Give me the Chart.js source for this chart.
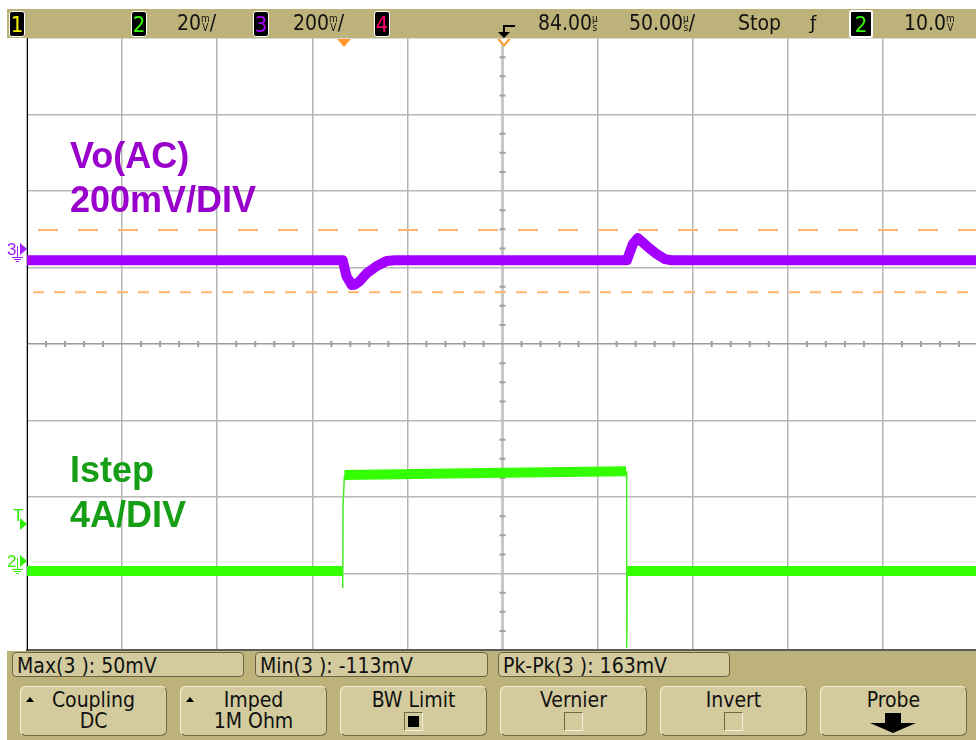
<!DOCTYPE html>
<html>
<head>
<meta charset="utf-8">
<script src="https://cdn.jsdelivr.net/npm/chart.js@4.4.1/dist/chart.umd.min.js"></script>
<style>
  html, body { margin: 0; padding: 0; background: #fff; overflow: hidden; }
  #scope { position: relative; width: 976px; height: 740px; overflow: hidden;
    font-family: "Liberation Sans Narrow", "DejaVu Sans Condensed", sans-serif; color: #111; }
  #plot { position: absolute; left: 0; top: 0; }
  .abs { position: absolute; }
  .bar { position: absolute; background: #bdb37a; }
  #topbar { left: 7px; top: 9px; width: 969px; height: 29px; }
  #botbar { left: 7px; top: 651px; width: 969px; height: 89px; }
  .chbox { position: absolute; top: 11px; width: 14px; height: 24px; background: #000;
    border: 1px solid #fff; border-radius: 3px; font-size: 22px; line-height: 25px; text-align: center; }
  .st { position: absolute; top: 9px; font-size: 21px; line-height: 28px; white-space: nowrap; }
  .unit { display: inline-block; font-size: 10px; line-height: 9px; vertical-align: top;
    margin-top: 5px; text-align: center; }
  .meas { position: absolute; top: 652px; height: 25px; background: #d3cb9e; border: 1px solid #6a6443;
    border-radius: 4px; font-size: 21px; line-height: 26px; padding-left: 4px; box-sizing: border-box; }
  .key { position: absolute; top: 686px; width: 147px; height: 50px; background: #d3cb9e;
    border: 1px solid #f4f0dc; border-right-color: #6f6946; border-bottom-color: #6f6946;
    border-radius: 6px; box-sizing: border-box; text-align: center; font-size: 21px; }
  .key .l1 { position: absolute; left: 0; right: 0; top: 2px; line-height: 22px; }
  .key .l2 { position: absolute; left: 0; right: 0; top: 23px; line-height: 22px; }
  .key .up { position: absolute; left: 5px; top: 10px; width: 0; height: 0;
    border-left: 4px solid transparent; border-right: 4px solid transparent; border-bottom: 5px solid #000; }
  .chk { position: absolute; top: 25px; width: 19px; height: 19px; box-sizing: border-box;
    border: 1px solid #6f6946; border-right-color: #f4f0dc; border-bottom-color: #f4f0dc; background: #d3cb9e; }
  .chk.on::after { content: ""; position: absolute; left: 3px; top: 3px; width: 11px; height: 11px; background: #000; }
  .label { position: absolute; left: 70px; font-family: "Liberation Sans", Arial, sans-serif;
    font-weight: bold; font-size: 36px; white-space: nowrap; }
  .mk { position: absolute; font-family: "Liberation Sans", sans-serif; font-size: 17px; line-height: 14px; }
  .tri { position: absolute; width: 0; height: 0; border-top: 6px solid transparent; border-bottom: 6px solid transparent; }
</style>
</head>
<body>
<div id="scope">
  <canvas id="plot" width="978" height="740"></canvas>

  <!-- top status line -->
  <div id="topbar" class="bar"></div>
  <div class="chbox" style="left:9px;color:#f4f400">1</div>
  <div class="chbox" style="left:131px;color:#33ff00">2</div>
  <div class="st" style="left:177px">20<span class="unit">m<br>V</span>/</div>
  <div class="chbox" style="left:253px;color:#b000ff">3</div>
  <div class="st" style="left:293px">200<span class="unit">m<br>V</span>/</div>
  <div class="chbox" style="left:374px;color:#ff0070">4</div>
  <div class="abs" style="left:504px;top:25px;width:11px;height:2px;background:#000"></div>
  <div class="abs" style="left:503px;top:25px;width:2px;height:8px;background:#000"></div>
  <div class="abs" style="left:498px;top:32px;width:0;height:0;border-left:6px solid transparent;border-right:6px solid transparent;border-top:6px solid #000"></div>
  <div class="st" style="left:538px">84.00<span class="unit">µ<br>s</span></div>
  <div class="st" style="left:629px">50.00<span class="unit">µ<br>s</span>/</div>
  <div class="st" style="left:738px">Stop</div>
  <div class="st" style="left:810px;font-family:'DejaVu Sans',sans-serif;font-size:18px">ƒ</div>
  <div class="chbox" style="left:849px;width:20px;border-width:2px;top:10px;color:#33ff00">2</div>
  <div class="st" style="left:904px">10.0<span class="unit">m<br>V</span></div>

  <!-- trigger position markers -->
  <div class="abs" style="left:337px;top:39px;width:0;height:0;border-left:7px solid transparent;border-right:7px solid transparent;border-top:8px solid #ff9a2a"></div>
  <div class="abs" style="left:497px;top:39px;width:0;height:0;border-left:7px solid transparent;border-right:7px solid transparent;border-top:8px solid #ff9a2a"></div>
  <div class="abs" style="left:500px;top:39px;width:0;height:0;border-left:4px solid transparent;border-right:4px solid transparent;border-top:5px solid #fff"></div>

  <!-- channel ground / trigger level markers -->
  <div class="mk" style="left:7px;top:243px;color:#a020ff">3</div>
  <div class="tri" style="left:20px;top:243px;border-left:7px solid #a020ff"></div>
  <div class="abs" style="left:17px;top:246px;width:1px;height:11px;background:#a020ff"></div>
  <div class="abs" style="left:12px;top:257px;width:11px;height:1px;background:#a020ff"></div>
  <div class="abs" style="left:14px;top:259px;width:7px;height:1px;background:#a020ff"></div>
  <div class="abs" style="left:16px;top:261px;width:3px;height:1px;background:#a020ff"></div>

  <div class="mk" style="left:13px;top:509px;color:#33ee00">T</div>
  <div class="tri" style="left:20px;top:518px;border-left:7px solid #33ee00"></div>

  <div class="mk" style="left:7px;top:555px;color:#33ee00">2</div>
  <div class="tri" style="left:20px;top:555px;border-left:7px solid #33ee00"></div>
  <div class="abs" style="left:17px;top:558px;width:1px;height:11px;background:#33ee00"></div>
  <div class="abs" style="left:12px;top:569px;width:11px;height:1px;background:#33ee00"></div>
  <div class="abs" style="left:14px;top:571px;width:7px;height:1px;background:#33ee00"></div>
  <div class="abs" style="left:16px;top:573px;width:3px;height:1px;background:#33ee00"></div>

  <!-- trace annotations -->
  <div class="label" style="top:134px;line-height:44px;color:#9900cc">Vo(AC)<br>200mV/DIV</div>
  <div class="label" style="top:447px;line-height:45px;color:#169e16">Istep<br>4A/DIV</div>

  <!-- measurement line and softkeys -->
  <div id="botbar" class="bar"></div>
  <div class="meas" style="left:12px;width:232px">Max(3 ): 50mV</div>
  <div class="meas" style="left:255px;width:233px">Min(3 ): -113mV</div>
  <div class="meas" style="left:498px;width:232px">Pk-Pk(3 ): 163mV</div>

  <div class="key" style="left:20px"><div class="up"></div><div class="l1">Coupling</div><div class="l2">DC</div></div>
  <div class="key" style="left:180px"><div class="up"></div><div class="l1">Imped</div><div class="l2">1M Ohm</div></div>
  <div class="key" style="left:340px"><div class="l1">BW Limit</div><div class="chk on" style="left:63px"></div></div>
  <div class="key" style="left:500px"><div class="l1">Vernier</div><div class="chk" style="left:63px"></div></div>
  <div class="key" style="left:660px"><div class="l1">Invert</div><div class="chk" style="left:63px"></div></div>
  <div class="key" style="left:820px"><div class="l1">Probe</div>
    <div class="abs" style="left:64px;top:26px;width:16px;height:10px;background:#000"></div>
    <div class="abs" style="left:49px;top:36px;width:0;height:0;border-left:23px solid transparent;border-right:23px solid transparent;border-top:10px solid #000"></div>
  </div>
</div>

<script>
// time base: 50 us/div, 10 div across, 84 us delay at screen centre, trigger at t = 0
const timeDivs = [-166, -116, -66, -16, 34, 84, 134, 184, 234, 284, 334];
const timeCenter = 84;

// channel 3: Vo (AC), 200 mV/div, ground marker 1.24 div above centre
const ch3Scale = 200;
const ch3Offset = 1.24;
const voTime = [-166, 0, 1.9, 4.7, 6.3, 8.9, 12.6, 17.9, 23.1, 27.4, 149.4, 152.5, 155.1, 159.9, 165.1, 169.3, 173, 334];
const voMv   = [-29, -29, -70, -94, -93, -84, -63, -44, -31, -29, -29, 13, 29, 8, -13, -26, -29, -29];

// max / min cursors on channel 3 (mV)
const cursorMaxMv = 50;
const cursorMinMv = -113;

// channel 2: Istep, 4 A/div, ground marker 2.85 div below centre
const ch2Scale = 4;
const ch2Offset = -2.85;
// flat parts of the current trace (null = break)
const iBandTime = [-166, -0.2, 0, 0.9, 75, 149.0, 149.3, 149.6, 334];
const iBandAmp  = [-0.47, -0.47, null, 4.55, 4.65, 4.75, null, -0.47, -0.47];
// thin switching edges
const iEdgeTime = [0, 0, 0.15, 0.6, 0.9, 50, 149.3, 149.3, 149.6];
const iEdgeAmp  = [-0.47, -1.36, 2.9, 2.9, 4.55, null, 4.75, -4.5, -0.47];

const tMin = timeDivs[0], tMax = timeDivs[timeDivs.length - 1];
const pts = (xs, ys) => xs.map((x, i) => ({ x, y: ys[i] }));

// small graticule ticks along the two centre lines
const centreTicks = {
  id: 'centreTicks',
  beforeDatasetsDraw(chart) {
    const { ctx, scales: { x, div } } = chart;
    const xc = x.getPixelForValue(timeCenter), yc = div.getPixelForValue(0);
    ctx.save();
    ctx.strokeStyle = '#a0a0a0';
    ctx.lineWidth = 2;
    ctx.beginPath();
    for (let i = 1; i < 50; i++) {
      if (i % 5 === 0) continue;
      const px = x.getPixelForValue(tMin + i * 10);
      ctx.moveTo(px, yc - 3); ctx.lineTo(px, yc + 3);
    }
    for (let j = 1; j < 32; j++) {
      if (j % 4 === 0) continue;
      const py = div.getPixelForValue(-4 + j * 0.25);
      ctx.moveTo(xc - 3, py); ctx.lineTo(xc + 3, py);
    }
    ctx.stroke();
    ctx.restore();
  }
};

new Chart(document.getElementById('plot'), {
  type: 'line',
  data: {
    datasets: [
      { data: pts(voTime, voMv), yAxisID: 'ch3', borderColor: '#a300ff', borderWidth: 10,
        borderJoinStyle: 'round', order: 1 },
      { data: pts(iEdgeTime, iEdgeAmp), yAxisID: 'ch2', borderColor: '#44ee22', borderWidth: 1.5,
        spanGaps: false, order: 2 },
      { data: pts(iBandTime, iBandAmp), yAxisID: 'ch2', borderColor: '#33ff00', borderWidth: 10,
        spanGaps: false, order: 2 },
      { data: pts([tMin, tMax], [cursorMaxMv, cursorMaxMv]), yAxisID: 'ch3', borderColor: '#ffb56b',
        borderWidth: 2, borderDash: [20, 20], borderDashOffset: 29, order: 3 },
      { data: pts([tMin, tMax], [cursorMinMv, cursorMinMv]), yAxisID: 'ch3', borderColor: '#ffb56b',
        borderWidth: 2, borderDash: [11, 10], borderDashOffset: 15, order: 3 }
    ]
  },
  options: {
    responsive: false,
    animation: false,
    layout: { padding: { left: 27, top: 38, right: 0, bottom: 90 } },
    elements: { point: { radius: 0 }, line: { tension: 0 } },
    plugins: { legend: { display: false }, tooltip: { enabled: false } },
    scales: {
      x: {
        type: 'linear', min: tMin, max: tMax,
        afterBuildTicks: s => { s.ticks = timeDivs.map(v => ({ value: v })); },
        ticks: { display: false },
        grid: {
          drawTicks: false,
          color: c => c.tick && c.tick.value === timeCenter ? '#c8c8c8' : '#b4b4b4',
          lineWidth: c => c.tick && c.tick.value === timeCenter ? 3 : 1.5
        },
        border: { display: true, color: '#5a5a5a', width: 2 }
      },
      div: {
        type: 'linear', position: 'left', min: -4, max: 4,
        ticks: { display: false, stepSize: 1 },
        grid: {
          drawTicks: false,
          color: c => c.tick && c.tick.value === 0 ? '#9a9a9a' : '#b8b8b8',
          lineWidth: 1.5
        },
        border: { display: true, color: '#000', width: 1 }
      },
      ch3: { type: 'linear', display: false,
        min: -(4 + ch3Offset) * ch3Scale, max: (4 - ch3Offset) * ch3Scale },
      ch2: { type: 'linear', display: false,
        min: -(4 + ch2Offset) * ch2Scale, max: (4 - ch2Offset) * ch2Scale }
    }
  },
  plugins: [centreTicks]
});
</script>
</body>
</html>
